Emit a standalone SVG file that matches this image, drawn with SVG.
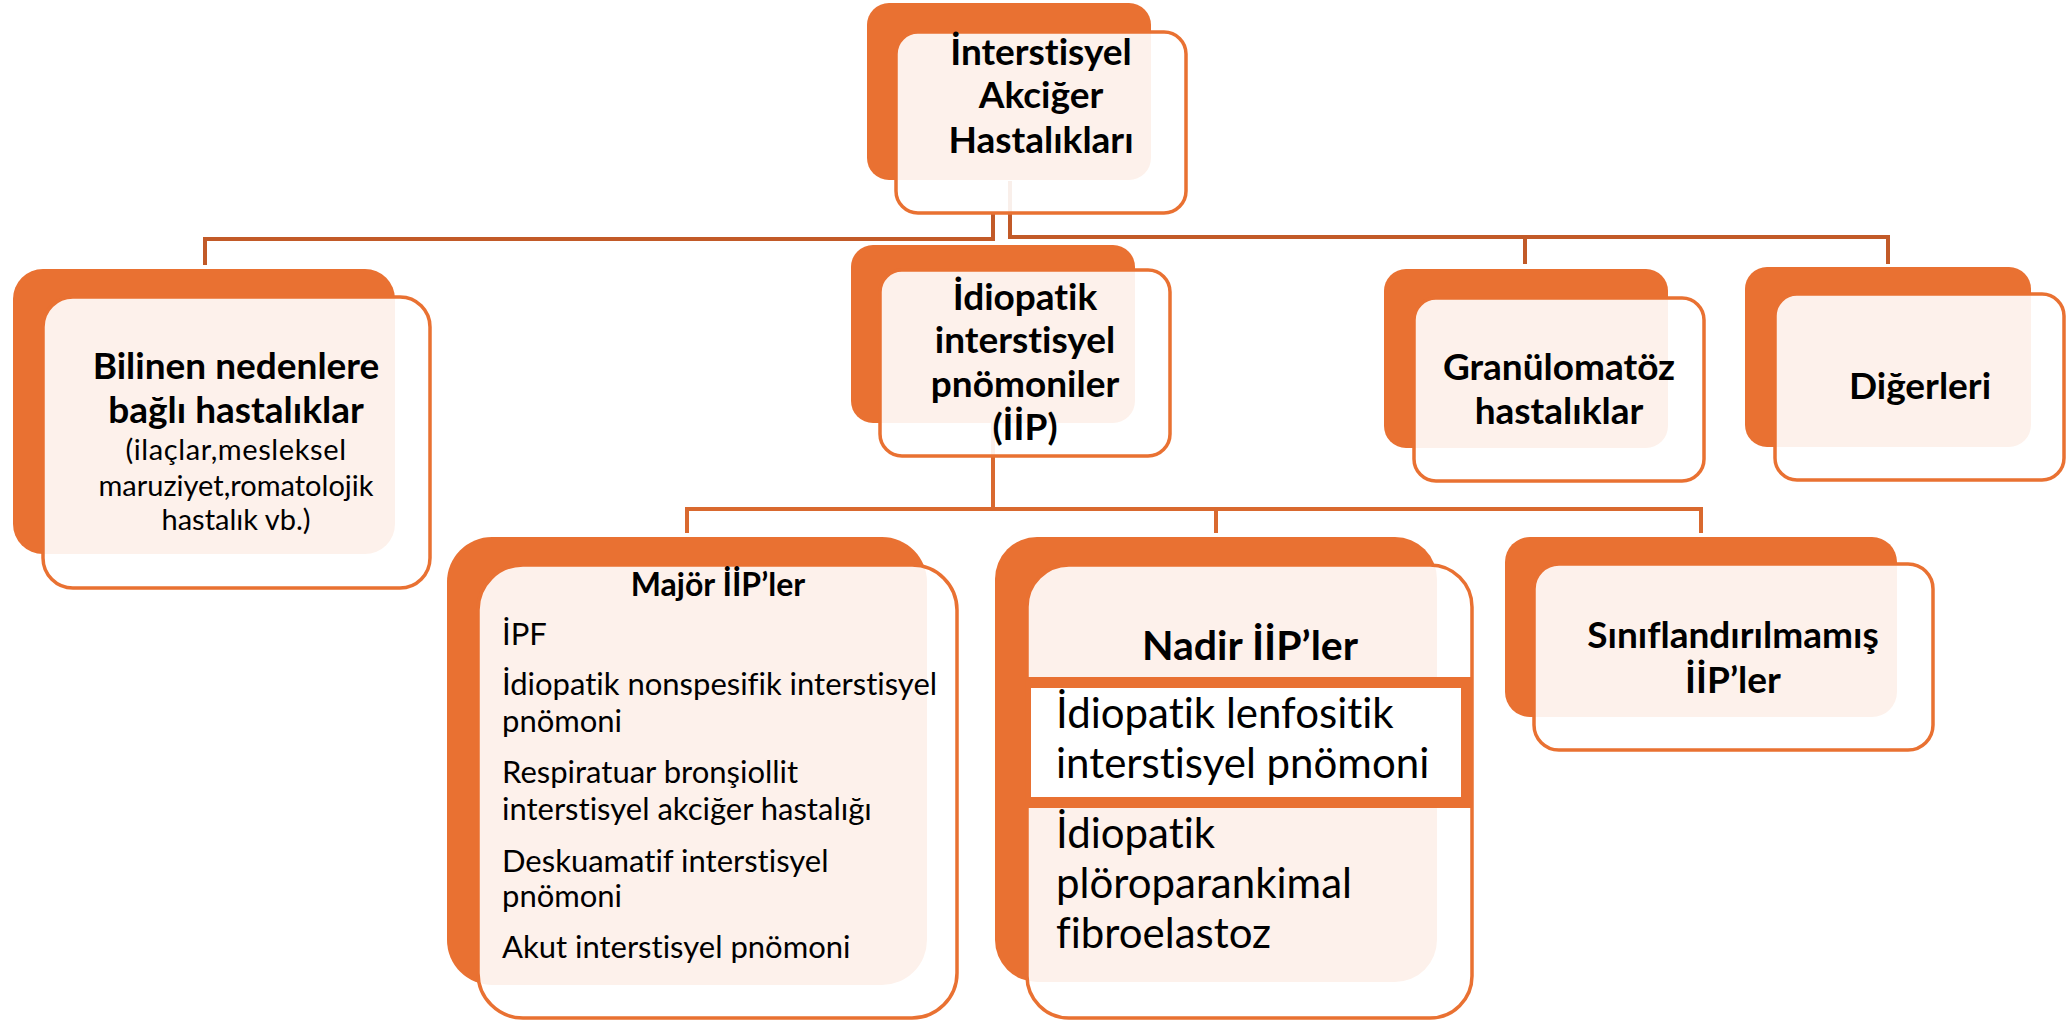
<svg xmlns="http://www.w3.org/2000/svg" width="2072" height="1021" viewBox="0 0 2072 1021">
<style>
.back{fill:#E97132}
.front{fill:#FFFFFF;fill-opacity:0.9;stroke:#E97132;stroke-width:3.5}
.t{font-family:Lato,"Liberation Sans",sans-serif;fill:#000;font-variant-ligatures:none}
.bd{font-weight:700}
.c{text-anchor:middle}
.conA{fill:none;stroke:#C25A28;stroke-width:4}
.conB{fill:none;stroke:#D9692F;stroke-width:4}
</style>
<rect width="2072" height="1021" fill="#FFFFFF"/>
<g id="connectors">
<path class="conA" d="M993 213 V239 H205 V265"/>
<path class="conA" d="M1010 181 V237 H1888 V264 M1525 237 V264"/>
<path class="conB" d="M993 423 V509 M687 533 V509 H1701 V533 M1216 509 V533"/>
</g>
<g id="n-root">
<rect class="back" x="867" y="3" width="284" height="177" rx="22"/>
<rect class="front" x="896" y="32" width="290" height="181" rx="22"/>
<text class="t bd c" font-size="37"><tspan x="1041" y="65">İnterstisyel</tspan><tspan x="1041" y="108">Akciğer</tspan><tspan x="1041" y="153">Hastalıkları</tspan></text>
</g>
<g id="n-bilinen">
<rect class="back" x="13" y="269" width="382" height="285" rx="30"/>
<rect class="front" x="43" y="297" width="387" height="291" rx="30"/>
<text class="t bd c" font-size="37"><tspan x="236" y="379">Bilinen nedenlere</tspan><tspan x="236" y="423">bağlı hastalıklar</tspan></text>
<text class="t c" font-size="29"><tspan x="236" y="460" letter-spacing="0.6">(ilaçlar,mesleksel</tspan><tspan x="236" y="496">maruziyet,romatolojik</tspan><tspan x="236" y="530">hastalık vb.)</tspan></text>
</g>
<g id="n-iip">
<rect class="back" x="851" y="245" width="284" height="178" rx="22"/>
<rect class="front" x="880" y="270" width="290" height="186" rx="22"/>
<text class="t bd c" font-size="37"><tspan x="1025" y="310">İdiopatik</tspan><tspan x="1025" y="353">interstisyel</tspan><tspan x="1025" y="397">pnömoniler</tspan><tspan x="1025" y="440">(İİP)</tspan></text>
</g>
<g id="n-granulomatoz">
<rect class="back" x="1384" y="269" width="284" height="179" rx="22"/>
<rect class="front" x="1414" y="298" width="290" height="183" rx="22"/>
<text class="t bd c" font-size="37"><tspan x="1559" y="380">Granülomatöz</tspan><tspan x="1559" y="424">hastalıklar</tspan></text>
</g>
<g id="n-digerleri">
<rect class="back" x="1745" y="267" width="286" height="180" rx="22"/>
<rect class="front" x="1775" y="294" width="289" height="186" rx="22"/>
<text class="t bd c" font-size="37" x="1920" y="399">Diğerleri</text>
</g>
<g id="n-major">
<rect class="back" x="447" y="537" width="480" height="448" rx="45"/>
<rect class="front" x="478" y="565" width="479" height="453" rx="45"/>
<text class="t bd c" font-size="32" x="718" y="596">Majör İİP’ler</text>
<text class="t" font-size="31"><tspan x="502" y="645">İPF</tspan><tspan x="502" y="695">İdiopatik nonspesifik interstisyel</tspan><tspan x="502" y="732">pnömoni</tspan><tspan x="502" y="783">Respiratuar bronşiollit</tspan><tspan x="502" y="820">interstisyel akciğer hastalığı</tspan><tspan x="502" y="872">Deskuamatif interstisyel</tspan><tspan x="502" y="907">pnömoni</tspan><tspan x="502" y="958">Akut interstisyel pnömoni</tspan></text>
</g>
<g id="n-nadir">
<rect class="back" x="995" y="537" width="442" height="445" rx="42"/>
<rect class="front" x="1027" y="565" width="445" height="453" rx="42"/>
<text class="t bd c" font-size="41" x="1250" y="660">Nadir İİP’ler</text>
<rect x="1026" y="677" width="447" height="131" fill="#E97132"/>
<rect x="1031" y="688" width="430" height="109" fill="#FFFFFF"/>
<text class="t" font-size="42"><tspan x="1056" y="728">İdiopatik lenfositik</tspan><tspan x="1056" y="778">interstisyel pnömoni</tspan><tspan x="1056" y="848">İdiopatik</tspan><tspan x="1056" y="898">plöroparankimal</tspan><tspan x="1056" y="948">fibroelastoz</tspan></text>
</g>
<g id="n-sinif">
<rect class="back" x="1505" y="537" width="392" height="180" rx="25"/>
<rect class="front" x="1534" y="564" width="399" height="186" rx="25"/>
<text class="t bd c" font-size="37"><tspan x="1733" y="648">Sınıflandırılmamış</tspan><tspan x="1733" y="693">İİP’ler</tspan></text>
</g>
</svg>
